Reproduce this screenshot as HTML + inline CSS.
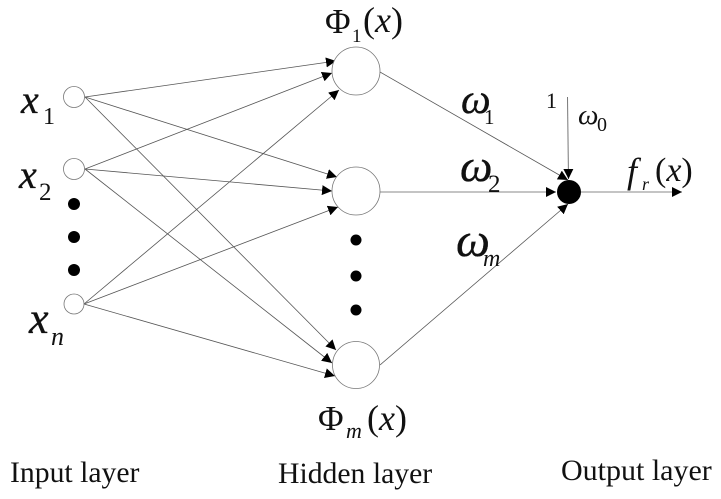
<!DOCTYPE html>
<html><head><meta charset="utf-8"><style>
html,body{margin:0;padding:0;background:#fff;width:721px;height:499px;overflow:hidden}
svg{display:block}
text{font-family:"Liberation Serif",serif;fill:#111}
.i{font-style:italic}
.b{stroke:#111;stroke-width:.35}
</style></head><body>
<svg width="721" height="499" viewBox="0 0 721 499" xmlns="http://www.w3.org/2000/svg">
<defs>
<marker id="a" markerUnits="userSpaceOnUse" markerWidth="11" markerHeight="10" refX="10" refY="5" orient="auto"><path d="M0 0L10 5L0 10Z" fill="#000"/></marker>
</defs>
<g stroke="#555" stroke-width="0.8" fill="none">
<path d="M85 97L336 61" marker-end="url(#a)"/>
<path d="M85 97L337 177" marker-end="url(#a)"/>
<path d="M85 97L336 350" marker-end="url(#a)"/>
<path d="M85 169L332 73" marker-end="url(#a)"/>
<path d="M85 169L332 191" marker-end="url(#a)"/>
<path d="M85 169L332 363" marker-end="url(#a)"/>
<path d="M84 304L339 90" marker-end="url(#a)"/>
<path d="M84 304L338 207" marker-end="url(#a)"/>
<path d="M84 304L335 376" marker-end="url(#a)"/>
<path d="M380 72L568 180" marker-end="url(#a)"/>
<path d="M380 192L556 192" marker-end="url(#a)" stroke="#888" stroke-width="1.1"/>
<path d="M380 365L568 204" marker-end="url(#a)"/>
<path d="M567.5 97L568.5 179" marker-end="url(#a)" stroke="#777" stroke-width="1"/>
<path d="M581 192L682 192" marker-end="url(#a)" stroke="#888" stroke-width="1.1"/>
</g>
<g fill="#fff" stroke="#777" stroke-width="0.8">
<circle cx="74" cy="97" r="10.5"/>
<circle cx="74" cy="169" r="10.5"/>
<circle cx="74" cy="304" r="10"/>
<circle cx="356" cy="71" r="24"/>
<circle cx="356" cy="191" r="24"/>
<circle cx="356" cy="365" r="23.5"/>
</g>
<g fill="#000">
<circle cx="569" cy="192" r="12"/>
<circle cx="74" cy="204" r="6"/><circle cx="74" cy="237" r="6"/><circle cx="74" cy="270" r="6"/>
<circle cx="356" cy="240" r="5.5"/><circle cx="356" cy="276" r="5.5"/><circle cx="356" cy="310" r="5.5"/>
</g>
<text class="i b" x="21" y="113" font-size="40">x</text><text x="43" y="124" font-size="24">1</text>
<text class="i b" x="19" y="188" font-size="40">x</text><text x="39" y="200" font-size="25">2</text>
<text class="i b" x="29" y="333" font-size="44">x</text><text class="i" x="51" y="345" font-size="26">n</text>
<text x="325" y="33" font-size="35">Φ</text><text x="352" y="42" font-size="19">1</text><text x="363" y="32" font-size="36">(<tspan class="i">x</tspan>)</text>
<text x="318" y="430" font-size="35">Φ</text><text class="i" x="346" y="438" font-size="22">m</text><text x="367" y="430" font-size="36">(<tspan class="i">x</tspan>)</text>
<text class="i b" x="461" y="113" font-size="42">ω</text><text x="484" y="124" font-size="21">1</text>
<text class="i b" x="460" y="181" font-size="46">ω</text><text x="488" y="192" font-size="25">2</text>
<text class="i b" x="456" y="256" font-size="48">ω</text><text class="i" x="483" y="266" font-size="24">m</text>
<text x="546" y="108" font-size="22">1</text>
<text class="i" x="578" y="124" font-size="29">ω</text><text x="597" y="131" font-size="20">0</text>
<text class="i" x="627" y="183" font-size="36">f</text><text class="i" x="642" y="190" font-size="18">r</text><text x="655" y="181" font-size="34">(<tspan class="i">x</tspan>)</text>
<text x="10" y="482" font-size="29.7">Input layer</text>
<text x="278" y="483" font-size="29.7">Hidden layer</text>
<text x="561" y="480" font-size="30">Output layer</text>
</svg>
</body></html>
